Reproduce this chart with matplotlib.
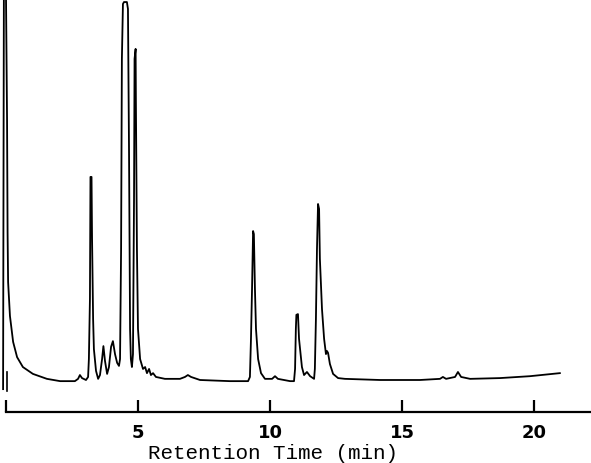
import matplotlib
matplotlib.use("Agg")
import matplotlib.pyplot as plt

# 크로마토그램 트레이스
# time: retention time (min), signal: detector response (% full scale)
time = [
    -0.11, -0.08, 0.00, 0.04, 0.06, 0.08, 0.15, 0.27, 0.42, 0.64,
    1.02, 1.55, 2.05, 2.61, 2.73, 2.80, 2.88, 3.03, 3.11, 3.14,
    3.18, 3.20, 3.24, 3.26, 3.30, 3.33, 3.41, 3.49, 3.56, 3.64,
    3.69, 3.75, 3.83, 3.90, 3.98, 4.05, 4.13, 4.21, 4.28, 4.32,
    4.36, 4.39, 4.43, 4.47, 4.58, 4.62, 4.66, 4.70, 4.73, 4.77,
    4.81, 4.85, 4.87, 4.91, 4.92, 4.96, 5.00, 5.08, 5.19, 5.27,
    5.34, 5.42, 5.49, 5.57, 5.68, 6.02, 6.59, 6.78, 6.89, 7.01,
    7.35, 8.48, 9.17, 9.24, 9.28, 9.32, 9.36, 9.39, 9.43, 9.47,
    9.55, 9.66, 9.81, 10.08, 10.19, 10.30, 10.76, 10.91, 10.95, 10.98,
    11.00, 11.06, 11.10, 11.14, 11.21, 11.29, 11.40, 11.52, 11.67, 11.70,
    11.74, 11.78, 11.82, 11.86, 11.89, 11.97, 12.05, 12.12, 12.16, 12.20,
    12.27, 12.39, 12.58, 12.84, 14.17, 15.68, 16.44, 16.55, 16.67, 17.01,
    17.12, 17.24, 17.58, 18.71, 19.85, 20.98,
]
signal = [
    -2.4, 101.0, 101.0, 68.5, 38.8, 25.7, 16.8, 10.0, 6.0, 3.4,
    1.6, 0.3, -0.3, -0.3, 0.3, 1.3, 0.5, 0.0, 0.8, 5.5,
    21.3, 53.3, 53.3, 37.0, 16.0, 8.1, 2.4, 0.3, 1.3, 5.5,
    8.9, 5.0, 1.6, 3.4, 8.7, 10.2, 6.8, 4.5, 3.7, 5.5,
    34.4, 84.3, 98.7, 99.2, 99.2, 97.4, 60.6, 13.4, 5.5, 3.4,
    6.8, 47.5, 84.3, 86.9, 73.8, 34.4, 13.4, 5.5, 2.9, 3.4,
    1.8, 2.9, 1.3, 1.8, 0.8, 0.3, 0.3, 0.8, 1.3, 0.8,
    0.0, -0.3, -0.3, 0.8, 10.8, 23.9, 39.1, 38.3, 23.9, 13.4,
    5.5, 1.8, 0.3, 0.3, 1.0, 0.3, -0.3, -0.3, 2.9, 13.4,
    17.1, 17.3, 10.8, 8.1, 3.4, 1.3, 2.1, 1.0, 0.3, 2.9,
    16.0, 34.4, 46.2, 44.9, 31.8, 18.6, 10.8, 6.8, 7.6, 7.1,
    4.2, 1.6, 0.5, 0.3, 0.0, 0.0, 0.3, 0.8, 0.3, 0.8,
    2.1, 0.8, 0.3, 0.5, 1.0, 1.8,
]

# 주입 표시 (injection mark)
inject_t = [0.05, 0.05]
inject_v = [-3.0, 2.0]

xticks = [0, 5, 10, 15, 20]
xticklabels = ["", "5", "10", "15", "20"]

fig = plt.figure(figsize=(5.91, 4.64), dpi=100)
ax = fig.add_axes([0.0, 51 / 464, 1.0, 413 / 464])

ax.plot(time, signal, color="black", linewidth=1.3)
ax.plot(inject_t, inject_v, color="black", linewidth=1.2)

ax.set_xlim(-0.227, 22.16)
ax.set_ylim(-8.4, 100)

# 축 설정 : 아래쪽 축만 남김
for side in ["left", "top", "right"]:
    ax.spines[side].set_visible(False)
ax.spines["bottom"].set_linewidth(1.6)
ax.spines["bottom"].set_bounds(0, 22.16)
ax.set_yticks([])
ax.set_xticks(xticks)
ax.set_xticklabels(xticklabels, fontsize=13, fontweight="bold", family="DejaVu Sans")
ax.tick_params(axis="x", direction="in", length=9, width=1.6, pad=8)

ax.set_xlabel("Retention Time (min)", family="Liberation Mono", fontsize=15)
ax.xaxis.set_label_coords(273 / 591, -0.075)

plt.savefig("out.png", dpi=100)
